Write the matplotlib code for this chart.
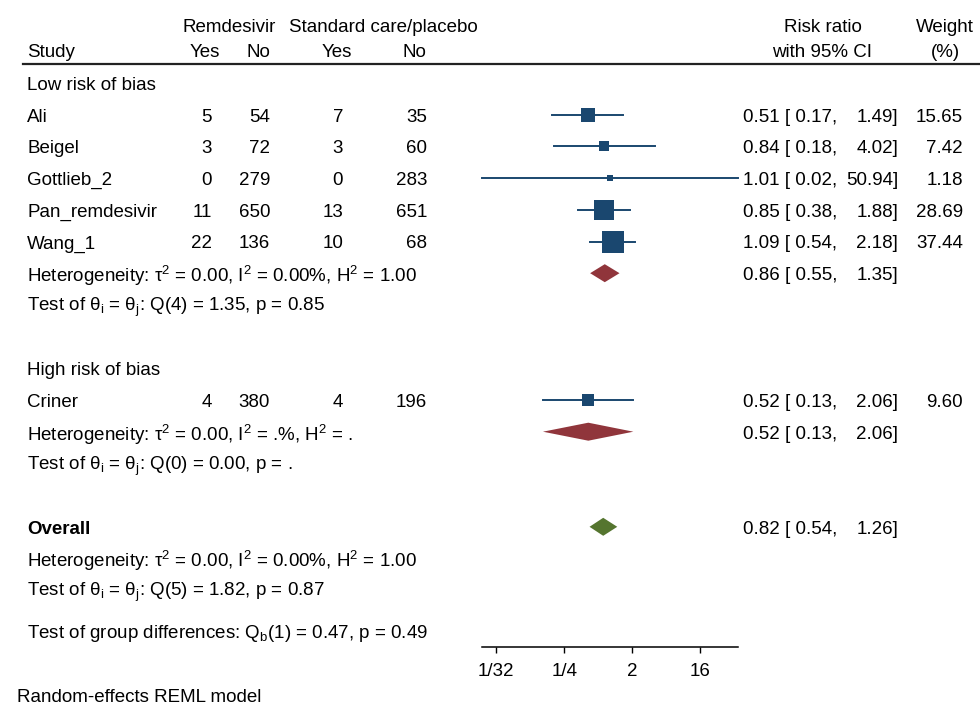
import numpy as np
import matplotlib.pyplot as plt
from matplotlib.ticker import NullLocator
from matplotlib.transforms import blended_transform_factory

plt.rcParams['font.family'] = ['Liberation Sans', 'DejaVu Sans']
plt.rcParams['font.size'] = 13.5

# --- data ---
studies = ['Ali', 'Beigel', 'Gottlieb_2', 'Pan_remdesivir', 'Wang_1', 'Criner']
groups = ['Low risk of bias', 'Low risk of bias', 'Low risk of bias',
          'Low risk of bias', 'Low risk of bias', 'High risk of bias']
rem_yes = [5, 3, 0, 11, 22, 4]
rem_no = [54, 72, 279, 650, 136, 380]
std_yes = [7, 3, 0, 13, 10, 4]
std_no = [35, 60, 283, 651, 68, 196]
rr = [0.51, 0.84, 1.01, 0.85, 1.09, 0.52]
ci_lo = [0.17, 0.18, 0.02, 0.38, 0.54, 0.13]
ci_hi = [1.49, 4.02, 50.94, 1.88, 2.18, 2.06]
weight = [15.65, 7.42, 1.18, 28.69, 37.44, 9.60]

group_names = ['Low risk of bias', 'High risk of bias']
group_rr = [0.86, 0.52]
group_lo = [0.55, 0.13]
group_hi = [1.35, 2.06]
group_het = ['Heterogeneity: τ$^\\mathregular{2}$ = 0.00, I$^\\mathregular{2}$ = 0.00%, H$^\\mathregular{2}$ = 1.00',
             'Heterogeneity: τ$^\\mathregular{2}$ = 0.00, I$^\\mathregular{2}$ = .%, H$^\\mathregular{2}$ = .']
group_test = ['Test of θ$_\\mathregular{i}$ = θ$_\\mathregular{j}$: Q(4) = 1.35, p = 0.85',
              'Test of θ$_\\mathregular{i}$ = θ$_\\mathregular{j}$: Q(0) = 0.00, p = .']

overall_rr, overall_lo, overall_hi = 0.82, 0.54, 1.26
overall_het = 'Heterogeneity: τ$^\\mathregular{2}$ = 0.00, I$^\\mathregular{2}$ = 0.00%, H$^\\mathregular{2}$ = 1.00'
overall_test = 'Test of θ$_\\mathregular{i}$ = θ$_\\mathregular{j}$: Q(5) = 1.82, p = 0.87'
group_diff = 'Test of group differences: Q$_\\mathregular{b}$(1) = 0.47, p = 0.49'

xticks = [1/32, 1/4, 2, 16]
xticklabels = ['1/32', '1/4', '2', '16']

navy = '#1a476f'
maroon = '#90353b'
green = '#55752f'

# --- layout (pixels) ---
W, H = 980, 712
row_px = 31.7
top_px = 83
axis_px = 647
x0_px, x1_px = 481.7, 738.3
text_shift = 2.5 / row_px   # text sits slightly below the marks

fig = plt.figure(figsize=(W / 100, H / 100), dpi=100)
ax = fig.add_axes([x0_px / W, 1 - axis_px / H, (x1_px - x0_px) / W, axis_px / H])
ax.set_xscale('log', base=2)
ax.set_xlim(min(ci_lo), max(ci_hi))
ax.set_ylim((axis_px - top_px) / row_px, -top_px / row_px)
for s in ['top', 'left', 'right']:
    ax.spines[s].set_visible(False)
ax.spines['bottom'].set_linewidth(1.1)
ax.set_yticks([])
ax.set_xticks(xticks)
ax.set_xticklabels(xticklabels)
ax.xaxis.set_minor_locator(NullLocator())
ax.tick_params(axis='x', length=4.5, width=1, pad=7, labelsize=13.5)
ax.patch.set_visible(False)

tr = blended_transform_factory(fig.transFigure, ax.transData)


def txt(xpx, k, s, ha='left', **kw):
    fig.text(xpx / W, 0, s, transform=tr, ha=ha, va='center', **kw)
    fig.texts[-1].set_position((xpx / W, k + text_shift))


def diamond(k, est, lo, hi, color):
    h = 9 / row_px
    ax.fill([lo, est, hi, est], [k, k - h, k, k + h], color=color, lw=0)


def ci_text(k, est, lo, hi):
    txt(743, k, f'{est:.2f} [ {lo:.2f},')
    txt(898, k, f'{hi:.2f}]', ha='right')


# header
txt(229, -1.83, 'Remdesivir', ha='center')
txt(383, -1.83, 'Standard care/placebo', ha='center')
txt(823, -1.83, 'Risk ratio', ha='center')
txt(945, -1.83, 'Weight', ha='center')
txt(27, -1.04, 'Study')
txt(205, -1.04, 'Yes', ha='center')
txt(258, -1.04, 'No', ha='center')
txt(337, -1.04, 'Yes', ha='center')
txt(414, -1.04, 'No', ha='center')
txt(822, -1.04, 'with 95% CI', ha='center')
txt(945, -1.04, '(%)', ha='center')
ax.plot([23 / W, 1.0], [-0.6, -0.6], transform=tr, color='#222222', lw=1.6, clip_on=False)

# studies by subgroup
k = 0
for g, gname in enumerate(group_names):
    txt(27, k, gname)
    k += 1
    for i in range(len(studies)):
        if groups[i] != gname:
            continue
        txt(27, k, studies[i])
        txt(212, k, str(rem_yes[i]), ha='right')
        txt(270, k, str(rem_no[i]), ha='right')
        txt(343, k, str(std_yes[i]), ha='right')
        txt(427, k, str(std_no[i]), ha='right')
        ax.plot([ci_lo[i], ci_hi[i]], [k, k], color=navy, lw=1.4, clip_on=False)
        side = (1.75 + 3.26 * np.sqrt(weight[i])) * 0.72
        ax.plot(rr[i], k, marker='s', ms=side, color=navy, mew=0)
        ci_text(k, rr[i], ci_lo[i], ci_hi[i])
        txt(963, k, f'{weight[i]:.2f}', ha='right')
        k += 1
    txt(27, k, group_het[g])
    diamond(k, group_rr[g], group_lo[g], group_hi[g], maroon)
    ci_text(k, group_rr[g], group_lo[g], group_hi[g])
    k += 1
    txt(27, k, group_test[g])
    k += 2

# overall
txt(27, k, 'Overall', fontweight='bold')
diamond(k, overall_rr, overall_lo, overall_hi, green)
ci_text(k, overall_rr, overall_lo, overall_hi)
txt(27, k + 1, overall_het)
txt(27, k + 2, overall_test)
txt(27, k + 3.3, group_diff)

fig.text(17 / W, 1 - 697 / H, 'Random-effects REML model', ha='left', va='center')

plt.savefig('out.png', dpi=100)
